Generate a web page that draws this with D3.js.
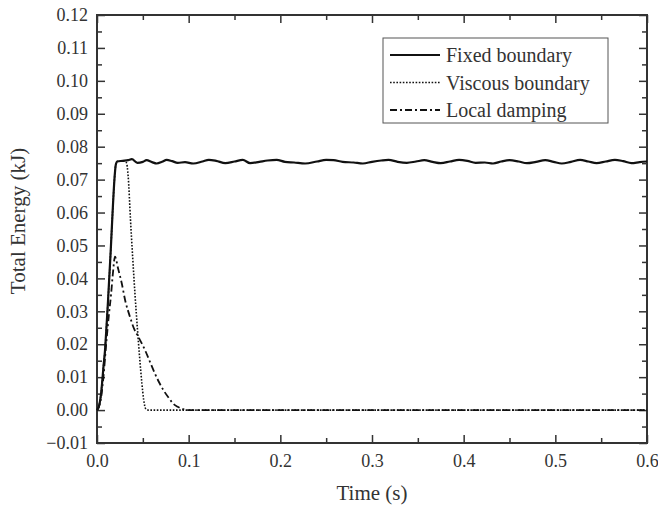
<!DOCTYPE html>
<html lang="en">
<head>
<meta charset="utf-8">
<title>Total Energy vs Time</title>
<script src="https://d3js.org/d3.v7.min.js"></script>
<style>
  body { margin: 0; background: #fff; }
  text { font-family: "Liberation Serif", "Times New Roman", serif; fill: #333; }
  .domain { display: none; }
  .tick line { stroke: #333; stroke-width: 1.5; }
</style>
</head>
<body>
<script>
// Data (time in s, energy in kJ)
const fixedT = [0, 0.002, 0.004, 0.0055, 0.007, 0.0087, 0.0105, 0.012, 0.015, 0.017, 0.019, 0.0205, 0.022,
  0.028, 0.034, 0.038, 0.044, 0.050, 0.054, 0.060, 0.065, 0.071, 0.076, 0.082, 0.088, 0.096, 0.105, 0.115,
  0.122, 0.130, 0.140, 0.150, 0.159, 0.167, 0.177, 0.186, 0.196, 0.205, 0.215, 0.227, 0.240, 0.250, 0.258,
  0.268, 0.280, 0.290, 0.300, 0.310, 0.318, 0.328, 0.338, 0.348, 0.357, 0.366, 0.375, 0.385, 0.395, 0.404,
  0.413, 0.423, 0.432, 0.441, 0.450, 0.460, 0.469, 0.479, 0.489, 0.498, 0.507, 0.517, 0.527, 0.536, 0.545,
  0.555, 0.565, 0.574, 0.583, 0.592, 0.600];
const fixedE = [0, 0.001, 0.004, 0.008, 0.013, 0.018, 0.026, 0.033, 0.0486, 0.060, 0.070, 0.0745, 0.0755,
  0.0757, 0.0759, 0.0762, 0.0751, 0.0754, 0.0759, 0.0753, 0.0749, 0.0754, 0.0760, 0.0756, 0.0751, 0.0753, 0.0749, 0.0755,
  0.0760, 0.0757, 0.0750, 0.0755, 0.0760, 0.0750, 0.0754, 0.0758, 0.0760, 0.0754, 0.0752, 0.0749, 0.0755, 0.0760, 0.0759,
  0.0754, 0.0752, 0.0749, 0.0754, 0.0758, 0.0760, 0.0754, 0.0751, 0.0755, 0.0759, 0.0754, 0.0750, 0.0755, 0.0760, 0.0757,
  0.0751, 0.0752, 0.0749, 0.0755, 0.0759, 0.0755, 0.0750, 0.0754, 0.0759, 0.0754, 0.0749, 0.0754, 0.0760, 0.0755, 0.0750,
  0.0755, 0.0760, 0.0756, 0.0750, 0.0753, 0.0755];

const viscT = [0, 0.002, 0.004, 0.0055, 0.007, 0.0087, 0.0105, 0.012, 0.015, 0.017, 0.019, 0.0205, 0.022,
  0.028, 0.032, 0.034, 0.0365, 0.039, 0.0415, 0.044, 0.0465, 0.049, 0.051, 0.053, 0.056, 0.600];
const viscE = [0, 0.001, 0.004, 0.008, 0.013, 0.018, 0.026, 0.033, 0.0486, 0.060, 0.070, 0.0745, 0.0755,
  0.0757, 0.0752, 0.071, 0.058, 0.046, 0.035, 0.025, 0.016, 0.008, 0.003, 0.0005, 0, 0];

const dampT = [0, 0.004, 0.007, 0.010, 0.013, 0.0153, 0.0175, 0.0196, 0.023, 0.027, 0.031, 0.036, 0.040,
  0.045, 0.0524, 0.058, 0.063, 0.068, 0.0724, 0.078, 0.083, 0.088, 0.094, 0.100, 0.600];
const dampE = [0, 0.003, 0.010, 0.020, 0.029, 0.035, 0.042, 0.0466, 0.043, 0.0385, 0.033, 0.0283, 0.025,
  0.0223, 0.0182, 0.0145, 0.0112, 0.0083, 0.0061, 0.0038, 0.002, 0.001, 0.0003, 0, 0];

const seriesNames = ["Fixed boundary", "Viscous boundary", "Local damping"];
const xTicks = [0, 0.1, 0.2, 0.3, 0.4, 0.5, 0.6];
const yTicks = [-0.01, 0, 0.01, 0.02, 0.03, 0.04, 0.05, 0.06, 0.07, 0.08, 0.09, 0.10, 0.11, 0.12];

const w = 658, h = 510;
const mLeft = 97, mRight = 647, mTop = 15, mBottom = 443;

const svg = d3.select("body").append("svg")
  .attr("width", w).attr("height", h);

const x = d3.scaleLinear().domain([0, 0.6]).range([mLeft, mRight]);
const y = d3.scaleLinear().domain([-0.01, 0.12]).range([mBottom, mTop]);

const xMinor = d3.range(0, 13).map(i => i * 0.05).filter(v => !xTicks.some(t => Math.abs(t - v) < 1e-9));
const yMinor = d3.range(0, 26).map(i => -0.01 + i * 0.005).filter((v, i) => i % 2 === 1);

// major axes with labels
svg.append("g")
  .attr("transform", "translate(0," + mBottom + ")")
  .call(d3.axisBottom(x).tickValues(xTicks).tickFormat(d3.format(".1f")).tickSizeInner(-8).tickPadding(8))
  .selectAll("text").attr("font-size", "18px").attr("dy", "0.9em");

svg.append("g")
  .attr("transform", "translate(" + mLeft + ",0)")
  .call(d3.axisLeft(y).tickValues(yTicks).tickFormat(d3.format(".2f")).tickSizeInner(-8).tickPadding(9))
  .selectAll("text").attr("font-size", "18px");

// minor ticks
svg.append("g").attr("transform", "translate(0," + mBottom + ")")
  .call(d3.axisBottom(x).tickValues(xMinor).tickFormat("").tickSizeInner(-5));
svg.append("g").attr("transform", "translate(" + mLeft + ",0)")
  .call(d3.axisLeft(y).tickValues(yMinor).tickFormat("").tickSizeInner(-5));

// mirrored ticks on top and right
svg.append("g").attr("transform", "translate(0," + mTop + ")")
  .call(d3.axisTop(x).tickValues(xTicks).tickFormat("").tickSizeInner(-8));
svg.append("g").attr("transform", "translate(0," + mTop + ")")
  .call(d3.axisTop(x).tickValues(xMinor).tickFormat("").tickSizeInner(-5));
svg.append("g").attr("transform", "translate(" + mRight + ",0)")
  .call(d3.axisRight(y).tickValues(yTicks).tickFormat("").tickSizeInner(-8));
svg.append("g").attr("transform", "translate(" + mRight + ",0)")
  .call(d3.axisRight(y).tickValues(yMinor).tickFormat("").tickSizeInner(-5));

// frame
svg.append("rect")
  .attr("x", mLeft).attr("y", mTop)
  .attr("width", mRight - mLeft).attr("height", mBottom - mTop)
  .attr("fill", "none").attr("stroke", "#333").attr("stroke-width", 2);

// lines
const line = d3.line().x(d => x(d[0])).y(d => y(d[1])).curve(d3.curveMonotoneX);

const styles = [
  { width: 2.2, dash: null },
  { width: 1.6, dash: "1.6,1.6" },
  { width: 1.8, dash: "7,3,2,3" }
];
const allData = [
  d3.zip(viscT, viscE),
  d3.zip(dampT, dampE),
  d3.zip(fixedT, fixedE)
];
const order = [1, 2, 0];

allData.forEach((d, i) => {
  const s = styles[order[i]];
  svg.append("path")
    .datum(d)
    .attr("d", line)
    .attr("fill", "none")
    .attr("stroke", "#111")
    .attr("stroke-width", s.width)
    .attr("stroke-dasharray", s.dash);
});

// legend
const legend = svg.append("g");
legend.append("rect")
  .attr("x", 383).attr("y", 38).attr("width", 225).attr("height", 85)
  .attr("fill", "#fff").attr("stroke", "#555").attr("stroke-width", 1);

seriesNames.forEach((name, i) => {
  const ly = 55 + i * 27.5;
  legend.append("line")
    .attr("x1", 390).attr("x2", 440).attr("y1", ly).attr("y2", ly)
    .attr("stroke", "#111")
    .attr("stroke-width", styles[i].width)
    .attr("stroke-dasharray", styles[i].dash);
  legend.append("text")
    .attr("x", 446).attr("y", ly)
    .attr("dy", "0.35em")
    .attr("font-size", "20px")
    .text(name);
});

// axis titles
svg.append("text")
  .attr("x", (mLeft + mRight) / 2).attr("y", 500)
  .attr("text-anchor", "middle")
  .attr("font-size", "21px")
  .text("Time (s)");

svg.append("text")
  .attr("transform", "translate(25," + ((mTop + mBottom) / 2 - 8) + ") rotate(-90)")
  .attr("text-anchor", "middle")
  .attr("font-size", "21px")
  .text("Total Energy (kJ)");
</script>
</body>
</html>
